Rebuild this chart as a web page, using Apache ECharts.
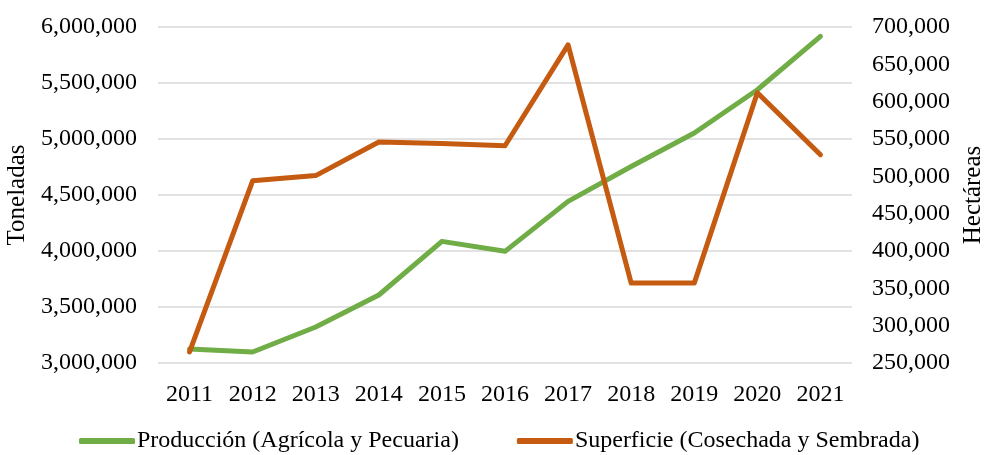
<!DOCTYPE html>
<html>
<head>
<meta charset="utf-8">
<title>Producción y Superficie</title>
<script src="https://cdn.jsdelivr.net/npm/echarts@6/dist/echarts.min.js"></script>
<style>
  html, body { margin: 0; padding: 0; background: #fff; }
  #chart { width: 987px; height: 455px; }
</style>
</head>
<body>
<div id="chart"></div>
<script>
// años
var years = ['2011', '2012', '2013', '2014', '2015', '2016', '2017', '2018', '2019', '2020', '2021'];
// toneladas (eje izquierdo)
var produccion = [3125000, 3098000, 3321000, 3607000, 4086000, 3997000, 4443000, 4755000, 5054000, 5440000, 5916000];
// hectáreas (eje derecho)
var superficie = [265000, 494000, 501000, 546000, 544000, 541000, 676000, 357000, 357000, 612000, 529000];

var font = 'Liberation Serif, Times New Roman, serif';
var fmt = function (v) { return v.toLocaleString('en-US'); };

var myChart = echarts.init(document.getElementById('chart'));
myChart.setOption({
  animation: false,
  textStyle: { fontFamily: font, color: '#000' },
  grid: { left: 158, right: 135, top: 27, bottom: 92, containLabel: false, outerBoundsMode: 'none' },
  legend: {
    top: 429,
    left: 79,
    padding: 0,
    itemWidth: 56,
    itemHeight: 6,
    itemGap: 58,
    icon: 'roundRect',
    textStyle: { fontFamily: font, fontSize: 24, color: '#000', padding: [0, 0, 0, -3] },
    data: ['Producción (Agrícola y Pecuaria)', 'Superficie (Cosechada y Sembrada)']
  },
  xAxis: {
    type: 'category',
    data: years,
    boundaryGap: true,
    axisLine: { show: false },
    axisTick: { show: false },
    axisLabel: { interval: 0, hideOverlap: false, fontFamily: font, fontSize: 24, color: '#000', margin: 20 }
  },
  yAxis: [
    {
      type: 'value',
      min: 3000000, max: 6000000, interval: 500000,
      name: 'Toneladas',
      nameLocation: 'middle',
      nameRotate: 90,
      nameGap: 123,
      nameTextStyle: { fontFamily: font, fontSize: 25, color: '#000' },
      axisLine: { show: false },
      axisTick: { show: false },
      axisLabel: { fontFamily: font, fontSize: 24, color: '#000', margin: 21, formatter: fmt },
      splitLine: { lineStyle: { color: '#d9d9d9', width: 1.5 } }
    },
    {
      type: 'value',
      min: 250000, max: 700000, interval: 50000,
      name: 'Hectáreas',
      nameLocation: 'middle',
      nameRotate: 90,
      nameGap: 108,
      nameTextStyle: { fontFamily: font, fontSize: 25, color: '#000' },
      axisLine: { show: false },
      axisTick: { show: false },
      axisLabel: { fontFamily: font, fontSize: 24, color: '#000', margin: 20, formatter: fmt },
      splitLine: { show: false }
    }
  ],
  series: [
    {
      name: 'Producción (Agrícola y Pecuaria)',
      type: 'line',
      yAxisIndex: 0,
      data: produccion,
      symbol: 'none',
      itemStyle: { color: '#70AD47' },
      lineStyle: { color: '#70AD47', width: 5, cap: 'round', join: 'round' }
    },
    {
      name: 'Superficie (Cosechada y Sembrada)',
      type: 'line',
      yAxisIndex: 1,
      data: superficie,
      symbol: 'none',
      itemStyle: { color: '#C55A11' },
      lineStyle: { color: '#C55A11', width: 5, cap: 'round', join: 'round' }
    }
  ]
});
</script>
</body>
</html>
